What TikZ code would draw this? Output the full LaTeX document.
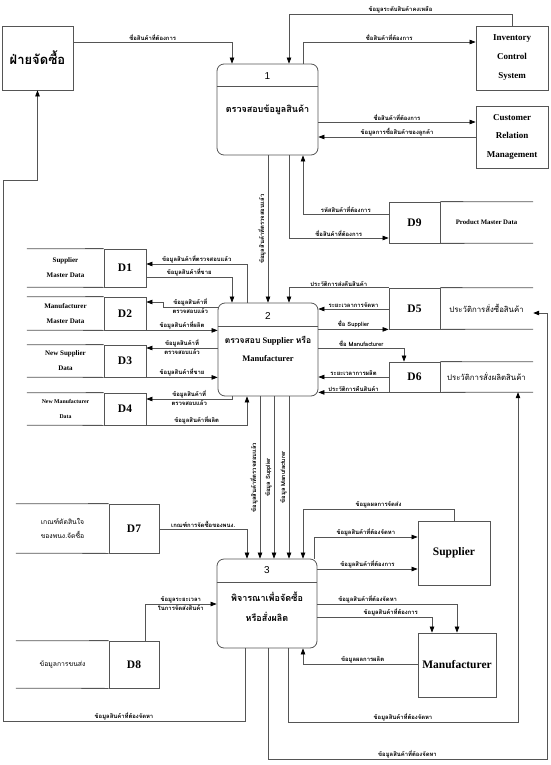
\documentclass[tikz,border=0pt]{standalone}
\usepackage{fontspec}
\setmainfont{Liberation Serif}
\newfontfamily\thai[Script=Thai]{Loma}
\newfontfamily\numfont{Liberation Sans}
\usetikzlibrary{arrows.meta, positioning}
\definecolor{linegray}{RGB}{85,85,85}

\begin{document}
\begin{tikzpicture}[
  x=1pt, y=-1pt,
  every node/.style={inner sep=0pt},
  proc/.style={rectangle, rounded corners=7pt, draw=linegray, line width=0.8pt},
  pnum/.style={font=\numfont\fontsize{10}{12}\selectfont},
  ptxt/.style={align=center, font=\thai\bfseries\fontsize{9}{19}\selectfont},
  ent/.style={rectangle, draw=linegray, line width=0.8pt, align=center},
  sid/.style={rectangle, draw=linegray, line width=0.8pt, font=\fontsize{11.5}{12}\selectfont\bfseries},
  sname/.style={rectangle, align=center, font=\fontsize{7}{15}\selectfont\bfseries},
  tname/.style={rectangle, align=center, font=\thai\fontsize{6.8}{14}\selectfont},
  store/.style={draw=linegray, line width=0.8pt},
  flow/.style={draw=linegray, line width=0.7pt, -{Triangle[length=6pt,width=4.5pt,color=black]}},
  lbl/.style={font=\thai\bfseries\fontsize{5.9}{6.5}\selectfont, inner sep=1pt}
]
\useasboundingbox (0,0) rectangle (550,765);

%--- External entities ---%
\node[ent, minimum width=71pt, minimum height=64pt, font=\thai\bfseries\fontsize{13}{14}\selectfont] (buy) at (37.5,58) {ฝ่ายจัดซื้อ};
\node[ent, minimum width=72pt, minimum height=64pt, font=\fontsize{9}{19}\selectfont\bfseries] (ics) at (512,58) {Inventory\\Control\\System};
\node[ent, minimum width=72pt, minimum height=62pt, font=\fontsize{9}{18.5}\selectfont\bfseries] (crm) at (512,137) {Customer\\Relation\\Management};
\node[ent, minimum width=72pt, minimum height=64pt, font=\fontsize{11.5}{13}\selectfont\bfseries] (sup) at (454,553) {Supplier};
\node[ent, minimum width=78pt, minimum height=64pt, font=\fontsize{11.5}{13}\selectfont\bfseries] (man) at (457,665) {Manufacturer};

%--- Processes ---%
\node[proc, minimum width=101pt, minimum height=91pt] (p1) at (267.5,109.5) {};
\draw[store] ([yshift=-23pt]p1.north west) -- ([yshift=-23pt]p1.north east);
\node[pnum] (p1num) at ([yshift=-12pt]p1.north) {1};
\node[ptxt] (p1txt) at ([yshift=-46pt]p1.north) {ตรวจสอบข้อมูลสินค้า};

\node[proc, minimum width=100pt, minimum height=93pt] (p2) at (268,349.5) {};
\draw[store] ([yshift=-24pt]p2.north west) -- ([yshift=-24pt]p2.north east);
\node[pnum] (p2num) at ([yshift=-13pt]p2.north) {2};
\node[ptxt, font=\bfseries\fontsize{8.5}{18}\selectfont] (p2txt) at ([yshift=-46pt]p2.north) {{\thai ตรวจสอบ} Supplier {\thai หรือ}\\Manufacturer};

\node[proc, minimum width=100pt, minimum height=89pt] (p3) at (267,603.5) {};
\draw[store] ([yshift=-24pt]p3.north west) -- ([yshift=-24pt]p3.north east);
\node[pnum] (p3num) at ([yshift=-11pt]p3.north) {3};
\node[ptxt, font=\thai\bfseries\fontsize{9}{20}\selectfont] (p3txt) at ([yshift=-48pt]p3.north) {พิจารณาเพื่อจัดซื้อ\\หรือสั่งผลิต};

%--- Data stores (open on the left) ---%
\node[sid, minimum width=42pt, minimum height=38pt] (d1) at (125,268) {D1};
\node[sname, minimum width=77pt, minimum height=38pt] (d1n) at (65.5,268) {Supplier\\Master Data};
\node[sid, minimum width=42pt, minimum height=33pt] (d2) at (125,313.5) {D2};
\node[sname, minimum width=77pt, minimum height=33pt] (d2n) at (65.5,313.5) {Manufacturer\\Master Data};
\node[sid, minimum width=42pt, minimum height=32pt] (d3) at (125,361) {D3};
\node[sname, minimum width=77pt, minimum height=32pt] (d3n) at (65.5,361) {New Supplier\\Data};
\node[sid, minimum width=42pt, minimum height=32pt] (d4) at (125,409) {D4};
\node[sname, minimum width=77pt, minimum height=32pt, font=\fontsize{5.8}{15}\selectfont\bfseries] (d4n) at (65.5,409) {New Manufacturer\\Data};
\node[sid, minimum width=50pt, minimum height=49pt] (d7) at (134,528.5) {D7};
\node[tname, minimum width=93pt, minimum height=49pt] (d7n) at (62.5,528.5) {เกณฑ์ตัดสินใจ\\ของพนง.จัดซื้อ};
\node[sid, minimum width=50pt, minimum height=47pt] (d8) at (134,664.5) {D8};
\node[tname, minimum width=93pt, minimum height=47pt] (d8n) at (62.5,664.5) {ข้อมูลการขนส่ง};
\foreach \d in {d1,d2,d3,d4,d7,d8}
  \draw[store] (\d n.north west) -- (\d.north west) (\d n.south west) -- (\d.south west);

%--- Data stores (open on the right) ---%
\node[sid, minimum width=51pt, minimum height=41pt] (d9) at (414.5,222.5) {D9};
\node[sname, minimum width=93pt, minimum height=41pt, font=\fontsize{6.8}{8}\selectfont\bfseries] (d9n) at (486.5,222.5) {Product Master Data};
\node[sid, minimum width=51pt, minimum height=41pt] (d5) at (414.5,308.5) {D5};
\node[tname, minimum width=93pt, minimum height=41pt, font=\thai\fontsize{7.8}{8}\selectfont] (d5n) at (486.5,308.5) {ประวัติการสั่งซื้อสินค้า};
\node[sid, minimum width=51pt, minimum height=30pt] (d6) at (414.5,377) {D6};
\node[tname, minimum width=93pt, minimum height=30pt, font=\thai\fontsize{7.8}{8}\selectfont] (d6n) at (486.5,377) {ประวัติการสั่งผลิตสินค้า};
\foreach \d in {d9,d5,d6}
  \draw[store] (\d.north east) -- (\d n.north east) (\d.south east) -- (\d n.south east);

%--- Flows of process 1 ---%
\draw[flow] (buy.east |- 0,42) -- node[lbl,above]{ชื่อสินค้าที่ต้องการ} (232,42) -- (p1.north -| 232,0);
\draw[flow] (ics.north) |- node[lbl,above,pos=0.75]{ข้อมูลระดับสินค้าคงเหลือ} (289,14) -- (p1.north -| 289,0);
\draw[flow] (p1.north -| 303,0) |- node[lbl,above,pos=0.75]{ชื่อสินค้าที่ต้องการ} (ics.west |- 0,42);
\draw[flow] (p1.east |- 0,122) -- node[lbl,above]{ชื่อสินค้าที่ต้องการ} (crm.west |- 0,122);
\draw[flow] (crm.west |- 0,137) -- node[lbl,above]{ข้อมูลการซื้อสินค้าของลูกค้า} (p1.east |- 0,137);
\draw[flow] (d9.west |- 0,214) -| node[lbl,above,pos=0.25]{รหัสสินค้าที่ต้องการ} (p1.south -| 303,0);
\draw[flow] (p1.south -| 289,0) |- node[lbl,above,pos=0.75]{ชื่อสินค้าที่ต้องการ} (d9.west |- 0,238);
\draw[flow] (p1.south -| 268,0) -- node[lbl,rotate=90,anchor=south,midway,inner sep=2pt]{ข้อมูลสินค้าที่ตรวจสอบแล้ว} (p2.north -| 268,0);

%--- Flows of process 2 ---%
\draw[flow] (p2.north -| 247,0) |- node[lbl,above,pos=0.75]{ข้อมูลสินค้าที่ตรวจสอบแล้ว} (d1.east |- 0,264);
\draw[flow] (d1.east |- 0,277) -| node[lbl,above,pos=0.25]{ข้อมูลสินค้าที่ขาย} (p2.north -| 232,0);
\draw[flow] (p2.west |- 0,307) -- node[lbl,above]{ข้อมูลสินค้าที่} node[lbl,below]{ตรวจสอบแล้ว} (163,307) |- (d2.east |- 0,302);
\draw[flow] (d2.south east) -- node[lbl,above]{ข้อมูลสินค้าที่ผลิต} (p2.west |- d2.south east);
\draw[flow] (p2.west |- 0,348) -- node[lbl,above]{ข้อมูลสินค้าที่} node[lbl,below]{ตรวจสอบแล้ว} (d3.east |- 0,348);
\draw[flow] (d3.south east) -- node[lbl,above]{ข้อมูลสินค้าที่ขาย} (p2.west |- d3.south east);
\draw[flow] (p2.south -| 232,0) |- node[lbl,above,pos=0.75]{ข้อมูลสินค้าที่} node[lbl,below,pos=0.75]{ตรวจสอบแล้ว} (d4.east |- 0,399);
\draw[flow] (d4.south east) -| node[lbl,above,pos=0.25]{ข้อมูลสินค้าที่ผลิต} (p2.south -| 247,0);
\draw[flow] (d5.north west) -| node[lbl,above,pos=0.25]{ประวัติการส่งคืนสินค้า} (p2.north -| 289,0);
\draw[flow] (d5.west |- 0,309) -- node[lbl,above]{ระยะเวลาการจัดหา} (p2.east |- 0,309);
\draw[flow] (p2.east |- d5.south west) -- node[lbl,above]{ชื่อ Supplier} (d5.south west);
\draw[flow] (p2.east |- 0,348) -| node[lbl,above,pos=0.25]{ชื่อ Manufacturer} (d6.north -| 404,0);
\draw[flow] (d6.west |- 0,377) -- node[lbl,above]{ระยะเวลาการผลิต} (p2.east |- 0,377);
\draw[flow] (d6.south west) -- node[lbl,above]{ประวัติการคืนสินค้า} (p2.east |- d6.south west);
\foreach \x/\t in {260/ข้อมูลสินค้าที่ตรวจสอบแล้ว, 274/ข้อมูล Supplier, 289/ข้อมูล Manufacturer}
  \draw[flow] (p2.south -| \x,0) -- node[lbl,rotate=90,anchor=south,midway,inner sep=2pt]{\t} (p3.north -| \x,0);

%--- Flows of process 3 ---%
\draw[flow] (d7.east |- 0,529) -| node[lbl,above,pos=0.25]{เกณฑ์การจัดซื้อของพนง.} (p3.north -| 247,0);
\draw[flow] (d8.north -| 145,0) |- node[lbl,above,pos=0.75]{ข้อมูลระยะเวลา} node[lbl,below,pos=0.75]{ในการจัดส่งสินค้า} (p3.west |- 0,604);
\draw[flow] (sup.north) |- node[lbl,above,pos=0.75]{ข้อมูลผลการจัดส่ง} (303,509) -- (p3.north -| 303,0);
\draw[flow] (p3.north -| 314,0) |- node[lbl,above,pos=0.75]{ข้อมูลสินค้าที่ต้องจัดหา} (sup.west |- 0,537);
\draw[flow] (p3.east |- 0,569) -- node[lbl,above]{ข้อมูลสินค้าที่ต้องการ} (sup.west |- 0,569);
\draw[flow] (p3.east |- 0,604) -| node[lbl,above,pos=0.18]{ข้อมูลสินค้าที่ต้องจัดหา} (man.north -| 457,0);
\draw[flow] (p3.east |- 0,617) -| node[lbl,above,pos=0.32]{ข้อมูลสินค้าที่ต้องการ} (man.north -| 432,0);
\draw[flow] (man.west |- 0,664) -| node[lbl,above,pos=0.24]{ข้อมูลผลการผลิต} (p3.south -| 303,0);
\draw[flow] (p3.south -| 245,0) -- (245,721) -- node[lbl,above]{ข้อมูลสินค้าที่ต้องจัดหา} (3,721) -- (3,180) -- (37.5,180) -- (buy.south);
\draw[flow] (p3.south -| 288,0) -- (288,722) -- node[lbl,above]{ข้อมูลสินค้าที่ต้องจัดหา} (518,722) -- (d6n.south -| 518,0);
\draw[flow] (p3.south -| 268,0) -- (268,759) -- node[lbl,above]{ข้อมูลสินค้าที่ต้องจัดหา} (547,759) -- (547,313) -- (d5n.east |- 0,313);

\end{tikzpicture}
\end{document}
